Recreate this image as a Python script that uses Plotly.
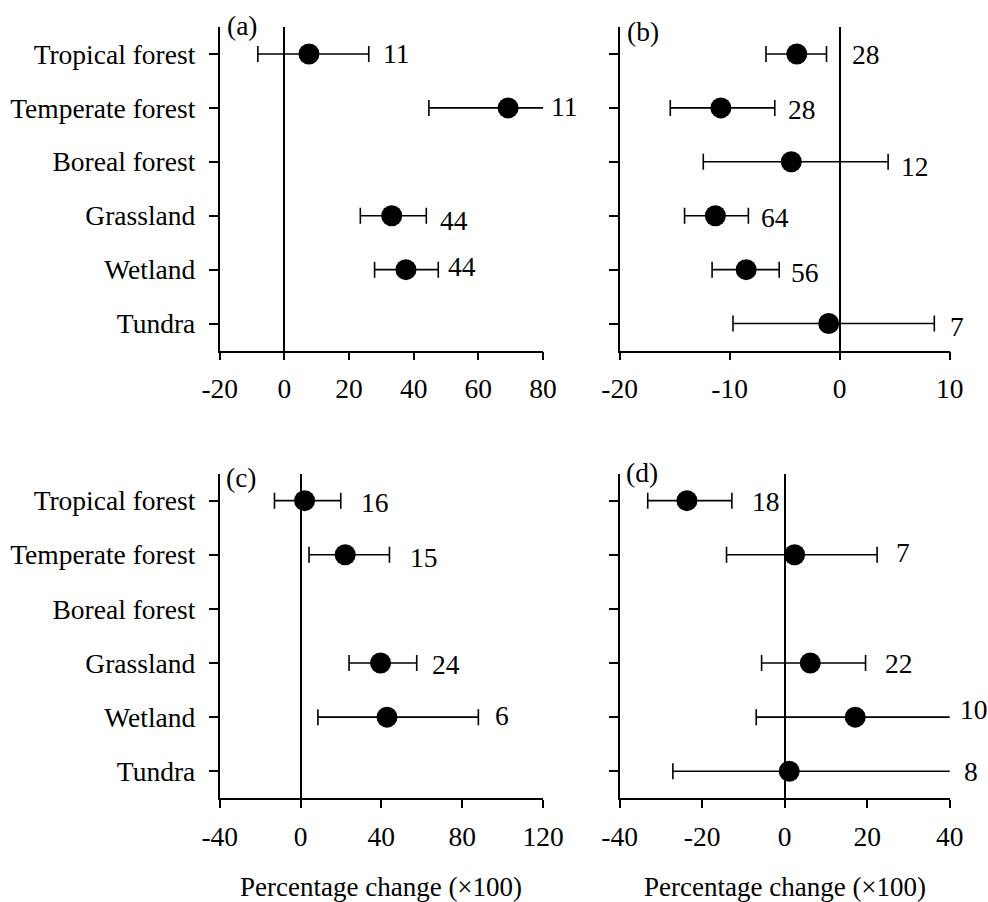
import numpy as np
import plotly.graph_objects as go

# ---------------- data ----------------
categories = ["Tropical forest", "Temperate forest", "Boreal forest",
              "Grassland", "Wetland", "Tundra"]

a_mean = [7.6, 69.2, None, 33.2, 37.6, None]
a_low = [-8.2, 44.7, None, 23.5, 27.9, None]
a_high = [26.1, 97.9, None, 43.9, 47.6, None]
a_n = [11, 11, None, 44, 44, None]

b_mean = [-3.9, -10.8, -4.4, -11.3, -8.5, -1.0]
b_low = [-6.7, -15.4, -12.4, -14.1, -11.6, -9.7]
b_high = [-1.2, -5.9, 4.4, -8.3, -5.5, 8.6]
b_n = [28, 28, 12, 64, 56, 7]

c_mean = [2.0, 22.1, None, 39.6, 42.8, None]
c_low = [-12.9, 4.2, None, 24.0, 8.6, None]
c_high = [19.9, 44.0, None, 57.5, 88.0, None]
c_n = [16, 15, None, 24, 6, None]

d_mean = [-23.7, 2.4, None, 6.2, 17.1, 1.1]
d_low = [-33.2, -14.1, None, -5.6, -6.9, -27.1]
d_high = [-12.8, 22.4, None, 19.6, 47.3, 41.0]
d_n = [18, 7, None, 22, 10, 8]

x_ticks_a = [-20, 0, 20, 40, 60, 80]
x_ticks_b = [-20, -10, 0, 10]
x_ticks_c = [-40, 0, 40, 80, 120]
x_ticks_d = [-40, -20, 0, 20, 40]

panel_labels = ["(a)", "(b)", "(c)", "(d)"]
x_title = "Percentage change (×100)"

# ---------------- style / layout ----------------
W, H = 988, 902
FONT = "Liberation Serif, Times New Roman, serif"
FS = 27.5
FS_TITLE = 27

# plot-area pixel boxes (left, right, top, bottom)
boxes = [
    (210.0, 546.6, 27.0, 350.5),
    (626.4, 970.0, 27.0, 350.5),
    (210.0, 546.6, 473.6, 798.3),
    (626.4, 970.0, 473.6, 798.3),
]
# per-label nudges (px): gap after error bar end, vertical shift (down +)
label_dx = [[12, 6, 0, 12, 8, 0],
            [24, 11, 11, 11, 10, 14],
            [18, 19, 0, 13, 15, 0],
            [18, 17, 0, 17, 8, 12]]
label_dy = [[0, -1, 0, 5, -3, 0],
            [1, 2, 5, 2, 3, 3],
            [2, 3, 0, 1, -2, 0],
            [1, -2, 0, 0, -8, 0]]
panel_label_pos = [(6, 26), (6, 31), (4, 477), (5, 472)]  # x offset from y-axis, y centre

panels = [
    (a_mean, a_low, a_high, a_n, x_ticks_a),
    (b_mean, b_low, b_high, b_n, x_ticks_b),
    (c_mean, c_low, c_high, c_n, x_ticks_c),
    (d_mean, d_low, d_high, d_n, x_ticks_d),
]

fig = go.Figure()
annotations = []

for i, (mean, low, high, n, ticks) in enumerate(panels):
    sfx = "" if i == 0 else str(i + 1)
    m = np.array([np.nan if v is None else v for v in mean], dtype=float)
    lo = np.array([np.nan if v is None else v for v in low], dtype=float)
    hi = np.array([np.nan if v is None else v for v in high], dtype=float)
    idx = list(range(len(categories)))
    fig.add_trace(go.Scatter(
        x=m, y=idx, mode="markers",
        marker=dict(color="black", size=21, line=dict(width=0)),
        error_x=dict(type="data", symmetric=False, array=hi - m, arrayminus=m - lo,
                     color="black", thickness=1.6, width=8),
        xaxis="x" + sfx, yaxis="y" + sfx, showlegend=False, hoverinfo="skip",
    ))

    L, R, T, B = boxes[i]
    xr = [ticks[0], ticks[-1]]
    fig.layout["xaxis" + sfx] = dict(
        domain=[L / W, R / W], anchor="y" + sfx, range=xr,
        tickmode="array", tickvals=ticks, ticktext=[str(t) for t in ticks],
        showline=True, linecolor="black", linewidth=1.8,
        ticks="outside", ticklen=8, tickwidth=1.6, tickcolor="black",
        showgrid=False, zeroline=True, zerolinecolor="black", zerolinewidth=1.6,
        ticklabelstandoff=5,
        tickfont=dict(family=FONT, size=FS, color="black"),
        fixedrange=True,
    )
    fig.layout["yaxis" + sfx] = dict(
        domain=[1 - B / H, 1 - T / H], anchor="x" + sfx,
        range=[len(categories) - 0.5, -0.5],
        tickmode="array", tickvals=idx, ticktext=categories,
        showticklabels=(i % 2 == 0),
        showline=True, linecolor="black", linewidth=1.8,
        ticks="outside", ticklen=9, tickwidth=1.6, tickcolor="black",
        showgrid=False, zeroline=False,
        ticklabelstandoff=8,
        tickfont=dict(family=FONT, size=FS, color="black"),
        fixedrange=True,
    )

    # sample-size labels
    for k in idx:
        if n[k] is None:
            continue
        xpos = min(hi[k], xr[1])
        annotations.append(dict(
            x=xpos, y=k, xref="x" + sfx, yref="y" + sfx,
            text=str(n[k]), showarrow=False, xanchor="left", yanchor="middle",
            xshift=label_dx[i][k], yshift=-label_dy[i][k],
            font=dict(family=FONT, size=FS, color="black"),
        ))

    # panel label
    dx, py = panel_label_pos[i]
    annotations.append(dict(
        x=(L + dx) / W, y=1 - py / H, xref="paper", yref="paper",
        text=panel_labels[i], showarrow=False, xanchor="left", yanchor="middle",
        font=dict(family=FONT, size=FS, color="black"),
    ))

    # x-axis titles (bottom row)
    if i >= 2:
        annotations.append(dict(
            x=(L + R) / 2 / W, y=1 - 886.7 / H, xref="paper", yref="paper",
            text=x_title, showarrow=False, xanchor="center", yanchor="middle",
            font=dict(family=FONT, size=FS_TITLE, color="black"),
        ))

fig.update_layout(
    width=W, height=H,
    margin=dict(l=0, r=0, t=0, b=0),
    paper_bgcolor="white", plot_bgcolor="white",
    annotations=annotations,
    showlegend=False,
)

fig.write_html("out.html")
